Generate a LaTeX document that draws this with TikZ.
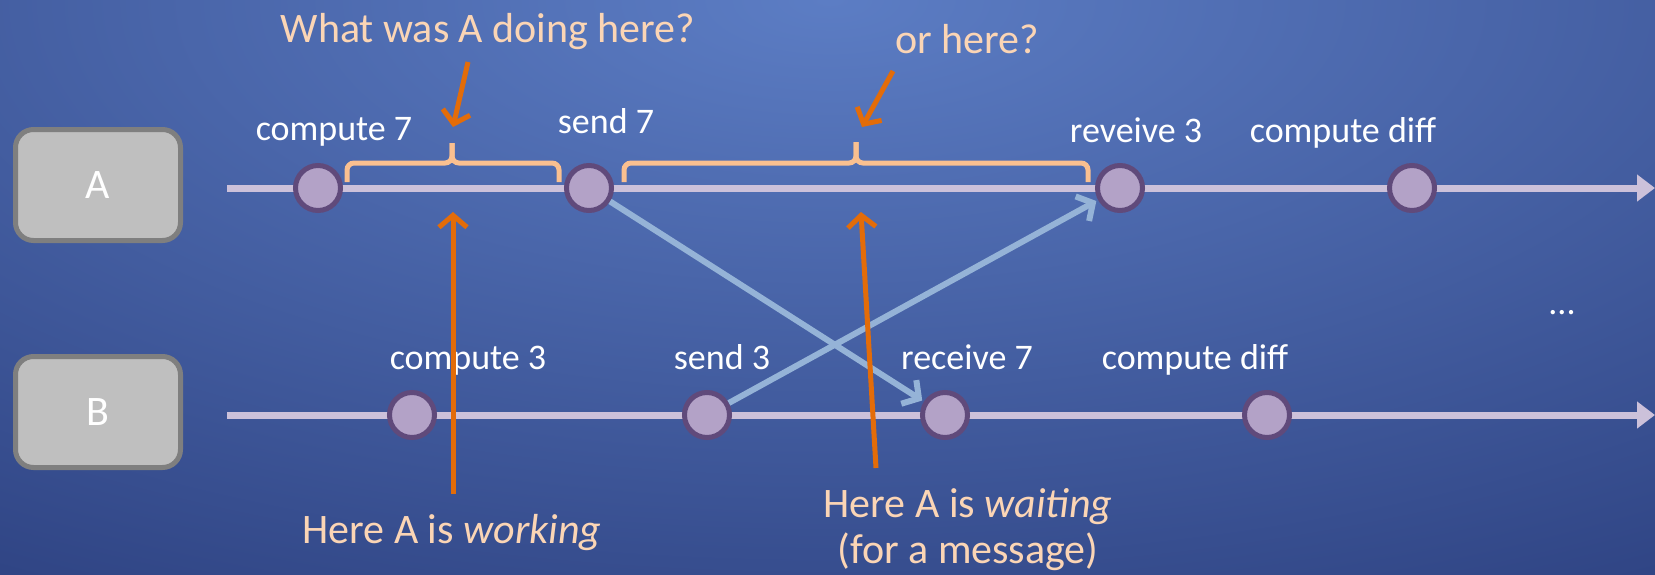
\documentclass[tikz,border=0pt]{standalone}
\usepackage{fontspec}
\setmainfont{Carlito}
\usetikzlibrary{arrows.meta}
\definecolor{bgin}{HTML}{5C7DC4}
\definecolor{bgout}{HTML}{1E2E6B}
\definecolor{boxfill}{HTML}{BFBFBF}
\definecolor{boxborder}{HTML}{7F7F7F}
\definecolor{evfill}{HTML}{B3A2C7}
\definecolor{evborder}{HTML}{604A7B}
\definecolor{tl}{HTML}{CCC1DA}
\definecolor{msgblue}{HTML}{95B3D7}
\definecolor{ptrorange}{HTML}{E36C09}
\definecolor{brk}{HTML}{FAC090}
\definecolor{peach}{HTML}{FBD5B5}
\tikzset{
  proc/.style={draw=boxborder, fill=boxfill, line width=5pt, rounded corners=18pt,
    minimum width=165pt, minimum height=111pt, text=white, font=\fontsize{42}{50}\selectfont},
  event/.style={circle, draw=evborder, fill=evfill, line width=5pt, minimum size=45pt, inner sep=0pt},
  lbl/.style={anchor=base, text=white, font=\fontsize{36}{43}\selectfont, inner sep=0pt},
  note/.style={anchor=base, text=peach, font=\fontsize{42}{50}\selectfont, inner sep=0pt},
  timeline/.style={draw=tl, line width=7pt, -{Triangle[length=18pt,width=26pt]}},
  msg/.style={draw=msgblue, line width=6pt, shorten >=2pt, -{Straight Barb[length=12pt,width=28pt]}},
  pointer/.style={draw=ptrorange, line width=5pt, -{Straight Barb[length=12pt,width=28pt]}},
  bracket/.style={draw=brk, line width=5pt, rounded corners=7pt},
}
\begin{document}
\begin{tikzpicture}[x=1pt,y=-1pt]
\useasboundingbox (0,0) rectangle (1655,574);
\begin{scope}
\clip (0,0) rectangle (1655,574);
\shade[inner color=bgin, outer color=bgout] (830,0) ellipse [x radius=2200, y radius=950];
\end{scope}

% process boxes
\node[proc] (A) at (98,185) {A};
\node[proc] (B) at (98,412) {B};

% timelines
\coordinate (tA0) at (227,188);
\coordinate (tA1) at (1655,188);
\coordinate (tB0) at (227,415);
\coordinate (tB1) at (1655,415);
\draw[timeline] (tA0) -- (tA1);
\draw[timeline] (tB0) -- (tB1);

% brackets
\draw[bracket] (347,182) |- (452,163) -- (452,143);
\draw[bracket] (452,143) -- (452,163) -| (559,182);
\draw[bracket] (624,182) |- (856,163) -- (856,142);
\draw[bracket] (856,142) -- (856,163) -| (1088,182);

% events on A
\node[event] (c7) at (318,188) {};
\node[event] (s7) at (589,188) {};
\node[event] (r3) at (1120,188) {};
\node[event] (dA) at (1412,188) {};
% events on B
\node[event] (c3) at (412,415) {};
\node[event] (s3) at (707,415) {};
\node[event] (r7) at (945,415) {};
\node[event] (dB) at (1267,415) {};

% labels
\node[lbl] (lc7) at (334,140) {compute 7};
\node[lbl] (ls7) at (606,133) {send 7};
\node[lbl] (lr3) at (1136,142) {reveive 3};
\node[lbl] (ldA) at (1343,142) {compute diff};
\node[lbl] (lc3) at (468,369) {compute 3};
\node[lbl] (ls3) at (722,369) {send 3};
\node[lbl] (lr7) at (967,369) {receive 7};
\node[lbl] (ldB) at (1195,369) {compute diff};
\node[lbl] (dots) at (1562,314) {...};

% messages
\draw[msg] (s7) -- (r7);
\draw[msg] (s3) -- (r3);

% notes
\node[note] (q1) at (488,42) {What was A doing here?};
\node[note] (q2) at (967,53) {or here?};
\node[note] (w1) at (452,543) {Here A is \textit{working}};
\node[note] (w2) at (968,517) {Here A is \textit{waiting}};
\node[note] (w3) at (968,563) {(for a message)};

% pointers
\coordinate (p1a) at (468,62);
\coordinate (p1b) at (453,127);
\coordinate (p2a) at (893,71);
\coordinate (p2b) at (862,127);
\coordinate (p3a) at (453,494);
\coordinate (p3b) at (453,212);
\coordinate (p4a) at (876,468);
\coordinate (p4b) at (861,212);
\draw[pointer] (p1a) -- (p1b);
\draw[pointer] (p2a) -- (p2b);
\draw[pointer] (p3a) -- (p3b);
\draw[pointer] (p4a) -- (p4b);
\end{tikzpicture}
\end{document}
